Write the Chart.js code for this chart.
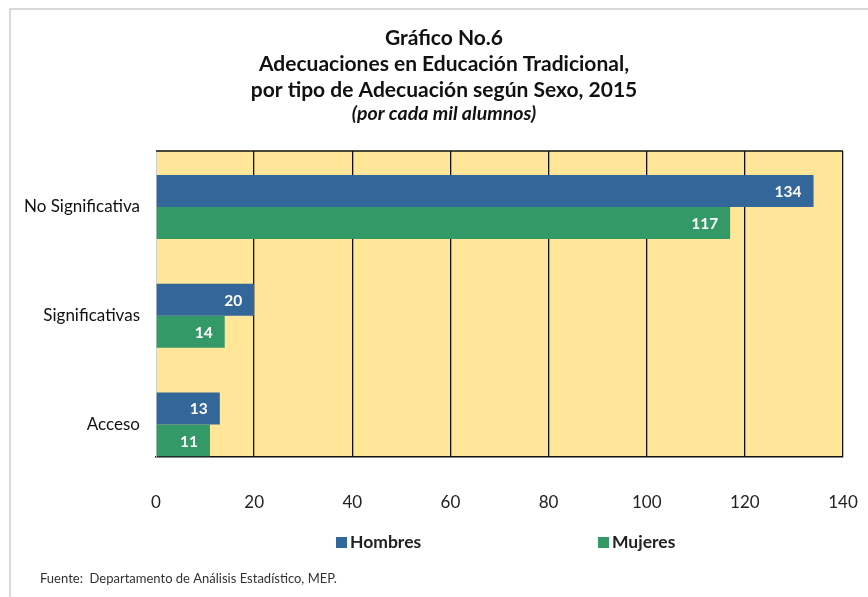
<!DOCTYPE html>
<html><head><meta charset="utf-8">
<script src="https://cdn.jsdelivr.net/npm/chart.js@4.4.0/dist/chart.umd.min.js"></script>
<style>html,body{margin:0;padding:0;background:#fff}canvas{display:block}</style>
</head><body>
<canvas id="c" width="868" height="597"></canvas>
<script>
const categories = ['No Significativa', 'Significativas', 'Acceso'];
const seriesNames = ['Hombres', 'Mujeres'];
const hombres = [134, 20, 13];
const mujeres = [117, 14, 11];
const xTicks = [0, 20, 40, 60, 80, 100, 120, 140];
const titleLines = ['Gráfico No.6', 'Adecuaciones en Educación Tradicional,', 'por tipo de Adecuación según Sexo, 2015'];
const subtitleText = '(por cada mil alumnos)';
const sourceText = 'Fuente:  Departamento de Análisis Estadístico, MEP.';

const FONT = 'Lato, "Open Sans", sans-serif';
const colors = ['#336699', '#339966'];

const decor = {
  id: 'decor',
  beforeDraw(chart) {
    const ctx = chart.ctx, a = chart.chartArea;
    ctx.save();
    ctx.fillStyle = '#fff';
    ctx.fillRect(0, 0, chart.width, chart.height);
    ctx.strokeStyle = '#d9d9d9';
    ctx.lineWidth = 2;
    ctx.beginPath();
    ctx.moveTo(10, chart.height); ctx.lineTo(10, 9); ctx.lineTo(chart.width, 9);
    ctx.stroke();
    ctx.fillStyle = '#FFE699';
    ctx.fillRect(a.left, a.top, a.right - a.left, a.bottom - a.top);
    // title
    ctx.fillStyle = '#111';
    ctx.textAlign = 'center';
    ctx.textBaseline = 'middle';
    ctx.font = 'bold 21px ' + FONT;
    const cx = 444;
    titleLines.forEach((t, i) => ctx.fillText(t, cx, 38 + i * 26));
    ctx.font = 'italic bold 19.5px ' + FONT;
    ctx.fillText(subtitleText, cx, 114);
    ctx.restore();
  },
  afterDatasetsDraw(chart) {
    const ctx = chart.ctx, a = chart.chartArea;
    ctx.save();
    ctx.strokeStyle = '#111';
    ctx.lineWidth = 1.5;
    ctx.beginPath();
    ctx.moveTo(a.left, a.top); ctx.lineTo(a.right, a.top);
    ctx.stroke();
    // data labels
    ctx.fillStyle = '#fff';
    ctx.font = 'bold 15.5px ' + FONT;
    ctx.textAlign = 'right';
    ctx.textBaseline = 'middle';
    chart.data.datasets.forEach((ds, di) => {
      chart.getDatasetMeta(di).data.forEach((bar, i) => {
        ctx.fillText(String(ds.data[i]), bar.x - 12, bar.y + 1);
      });
    });
    ctx.restore();
  },
  afterDraw(chart) {
    const ctx = chart.ctx;
    ctx.save();
    // legend
    ctx.font = 'bold 17.5px ' + FONT;
    ctx.textBaseline = 'middle';
    ctx.textAlign = 'left';
    const lx = [336, 598];
    chart.data.datasets.forEach((ds, i) => {
      ctx.fillStyle = ds.backgroundColor;
      ctx.fillRect(lx[i], 537, 11, 11);
      ctx.fillStyle = '#222';
      ctx.fillText(ds.label, lx[i] + 14, 542);
    });
    // source
    ctx.font = '13px ' + FONT;
    ctx.fillStyle = '#333';
    ctx.fillText(sourceText, 40, 579);
    ctx.restore();
  }
};

new Chart(document.getElementById('c'), {
  type: 'bar',
  data: {
    labels: categories,
    datasets: [
      { label: seriesNames[0], data: hombres, backgroundColor: colors[0], categoryPercentage: 0.59, barPercentage: 1 },
      { label: seriesNames[1], data: mujeres, backgroundColor: colors[1], categoryPercentage: 0.59, barPercentage: 1 }
    ]
  },
  options: {
    indexAxis: 'y',
    responsive: false,
    animation: false,
    layout: { padding: { left: 10, right: 25, top: 151, bottom: 82 } },
    plugins: { legend: { display: false }, title: { display: false }, tooltip: { enabled: false } },
    scales: {
      x: {
        min: 0, max: 140,
        afterBuildTicks(scale) { scale.ticks = xTicks.map(v => ({ value: v })); },
        grid: {
          color: c => (c.tick && c.tick.value === 0) ? 'rgba(0,0,0,0)' : '#111',
          lineWidth: 1.3,
          drawTicks: true,
          tickLength: 34,
          tickColor: 'rgba(0,0,0,0)'
        },
        border: { display: true, color: '#111', width: 1.5 },
        ticks: { padding: 2, color: '#222', font: { family: FONT, size: 17 }, maxRotation: 0 }
      },
      y: {
        afterBuildTicks(scale) {
          // the last category group sits on the bottom axis, as in the original
          scale._startValue = -0.515;
          scale._valueRange = 2.81;
        },
        grid: { display: false, drawTicks: false },
        border: { display: true, color: '#d0d0d0', width: 1 },
        afterFit(scale) { scale.width = 146; },
        ticks: { padding: 16, color: '#111', font: { family: FONT, size: 17 } }
      }
    }
  },
  plugins: [decor]
});
</script>
</body></html>
